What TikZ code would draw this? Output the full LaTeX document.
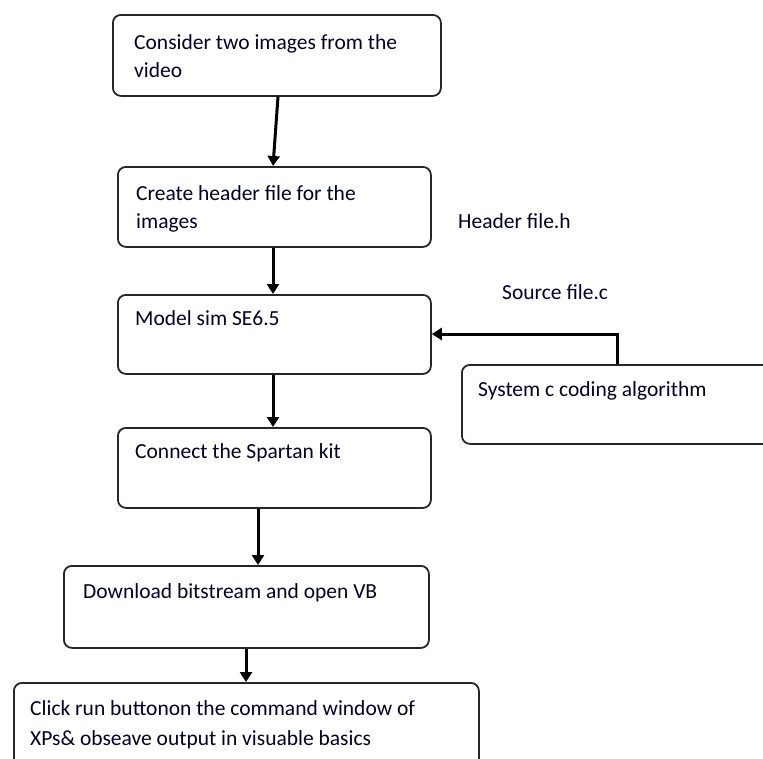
\documentclass[tikz,border=0pt]{standalone}
\usepackage{fontspec}
\setmainfont{Carlito}
\usetikzlibrary{arrows.meta,calc}
\begin{document}
\begin{tikzpicture}[x=1pt,y=-1pt,
  box/.style={draw=black!85,line width=1.8pt,rounded corners=8pt,anchor=north west,inner sep=0pt},
  txt/.style={anchor=base west,inner sep=0pt,font=\fontsize{21.5}{28}\selectfont,text=black!85!blue},
  arr/.style={line width=3pt,-{Triangle[width=12pt,length=10pt]}}]
\useasboundingbox (0,0) rectangle (763,758);
\clip (0,0) rectangle (763,758);
% boxes
\node[box,minimum width=328pt,minimum height=81pt] (b1) at (112,14) {};
\node[box,minimum width=313pt,minimum height=80pt] (b2) at (117,166) {};
\node[box,minimum width=313pt,minimum height=79pt] (b3) at (117,294) {};
\node[box,minimum width=340pt,minimum height=79pt] (bs) at (461,364) {};
\node[box,minimum width=313pt,minimum height=80pt] (b4) at (117,427) {};
\node[box,minimum width=365pt,minimum height=82pt] (b5) at (63,565) {};
\node[box,minimum width=465pt,minimum height=110pt] (b6) at (13,682) {};
% texts
\node[txt] (t1a) at (134,49) {Consider two images from the};
\node[txt] (t1b) at (134,77) {video};
\node[txt] (t2a) at (136,200) {Create header file for the};
\node[txt] (t2b) at (136,228) {images};
\node[txt] (th) at (458,228) {Header file.h};
\node[txt] (t3) at (135,325) {Model sim SE6.5};
\node[txt] (tsrc) at (502,299) {Source file.c};
\node[txt] (ts) at (478,396) {System c coding algorithm};
\node[txt] (t4) at (135,458) {Connect the Spartan kit};
\node[txt] (t5) at (83,598) {Download bitstream and open VB};
\node[txt] (t6a) at (30,715) {Click run buttonon the command window of};
\node[txt] (t6b) at (30,745) {XPs\& obseave output in visuable basics};
% connectors
\draw[arr] ($(b1.south west)+(166,0)$) -- ($(b2.north west)+(156,0)$);
\draw[arr] ($(b2.south west)+(156,0)$) -- ($(b3.north west)+(156,0)$);
\draw[arr] ($(b3.south west)+(156,0)$) -- ($(b4.north west)+(156,0)$);
\draw[arr] ($(b4.south west)+(141,0)$) -- ($(b5.north west)+(195,0)$);
\draw[arr] ($(b5.south west)+(183,0)$) -- ($(b6.north west)+(233,0)$);
\draw[arr] ($(bs.north west)+(156,0)$) |- ($(b3.north east)+(0,40)$);
\end{tikzpicture}
\end{document}
